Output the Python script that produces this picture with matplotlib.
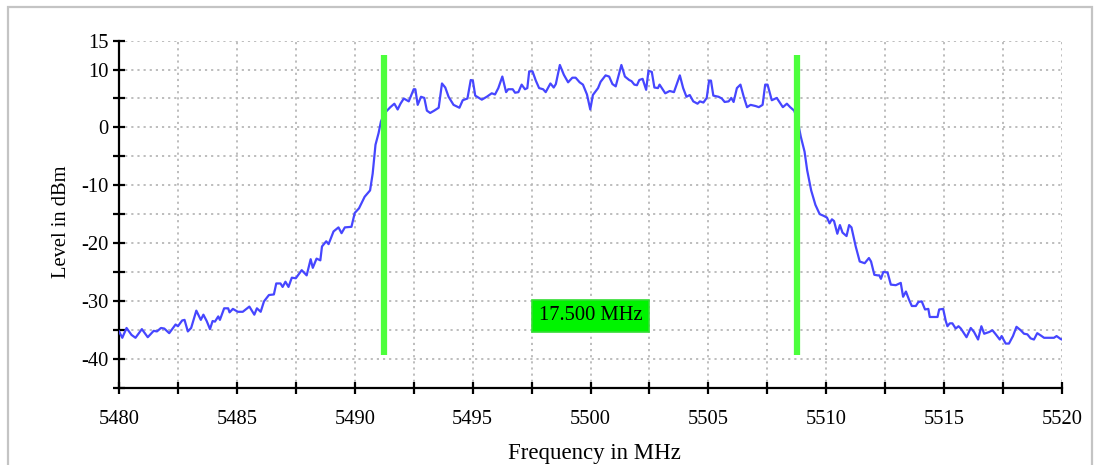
import matplotlib
matplotlib.use('Agg')
import matplotlib.pyplot as plt
from matplotlib.patches import Rectangle

# ---- data ----
freq_mhz = [
    5480.00, 5480.14, 5480.32, 5480.53, 5480.70, 5480.97, 5481.22, 5481.47, 5481.61, 5481.78,
    5481.92, 5482.13, 5482.40, 5482.50, 5482.68, 5482.78, 5482.92, 5483.06, 5483.28, 5483.47,
    5483.58, 5483.72, 5483.86, 5483.97, 5484.07, 5484.21, 5484.28, 5484.46, 5484.63, 5484.69,
    5484.83, 5485.04, 5485.25, 5485.53, 5485.74, 5485.85, 5486.01, 5486.15, 5486.36, 5486.57,
    5486.67, 5486.85, 5486.94, 5487.06, 5487.19, 5487.33, 5487.50, 5487.75, 5487.96, 5488.13,
    5488.22, 5488.38, 5488.54, 5488.61, 5488.79, 5488.89, 5489.10, 5489.31, 5489.44, 5489.58,
    5489.86, 5490.00, 5490.18, 5490.42, 5490.65, 5490.76, 5490.88, 5491.01, 5491.11, 5491.25,
    5491.37, 5491.51, 5491.68, 5491.82, 5491.94, 5492.08, 5492.29, 5492.50, 5492.57, 5492.67,
    5492.81, 5492.95, 5493.06, 5493.20, 5493.37, 5493.56, 5493.70, 5493.84, 5493.98, 5494.19,
    5494.44, 5494.58, 5494.78, 5494.92, 5495.01, 5495.11, 5495.39, 5495.60, 5495.81, 5495.95,
    5496.09, 5496.26, 5496.42, 5496.51, 5496.70, 5496.80, 5496.94, 5497.08, 5497.22, 5497.32,
    5497.40, 5497.54, 5497.68, 5497.82, 5497.99, 5498.10, 5498.30, 5498.44, 5498.53, 5498.70,
    5498.87, 5499.05, 5499.23, 5499.37, 5499.54, 5499.68, 5499.85, 5499.99, 5500.10, 5500.32,
    5500.43, 5500.64, 5500.79, 5500.93, 5501.07, 5501.31, 5501.46, 5501.64, 5501.74, 5501.86,
    5501.97, 5502.07, 5502.21, 5502.36, 5502.46, 5502.60, 5502.71, 5502.86, 5502.93, 5503.17,
    5503.36, 5503.54, 5503.79, 5503.93, 5504.07, 5504.21, 5504.36, 5504.54, 5504.64, 5504.79,
    5504.93, 5505.03, 5505.11, 5505.21, 5505.43, 5505.57, 5505.69, 5505.86, 5505.97, 5506.07,
    5506.21, 5506.36, 5506.50, 5506.64, 5506.79, 5507.00, 5507.14, 5507.30, 5507.41, 5507.51,
    5507.69, 5507.90, 5508.16, 5508.33, 5508.47, 5508.64, 5508.78, 5508.92, 5509.08, 5509.19,
    5509.36, 5509.54, 5509.72, 5509.89, 5510.03, 5510.14, 5510.24, 5510.33, 5510.47, 5510.58,
    5510.69, 5510.86, 5510.97, 5511.07, 5511.25, 5511.42, 5511.63, 5511.81, 5511.90, 5512.04,
    5512.18, 5512.25, 5512.32, 5512.42, 5512.60, 5512.74, 5512.95, 5513.16, 5513.26, 5513.38,
    5513.52, 5513.63, 5513.80, 5513.91, 5514.05, 5514.19, 5514.33, 5514.39, 5514.72, 5514.79,
    5514.96, 5515.07, 5515.14, 5515.24, 5515.35, 5515.49, 5515.61, 5515.71, 5515.95, 5516.13,
    5516.27, 5516.44, 5516.58, 5516.70, 5516.91, 5517.05, 5517.19, 5517.36, 5517.44, 5517.61,
    5517.75, 5517.92, 5518.07, 5518.25, 5518.39, 5518.53, 5518.67, 5518.81, 5518.95, 5519.10,
    5519.24, 5519.66, 5519.77, 5519.94, 5520.00,
]
level_dbm = [
    -35.3, -36.4, -34.7, -35.9, -36.4, -34.9, -36.3, -35.2, -35.3, -34.7,
    -34.8, -35.6, -34.1, -34.4, -33.4, -33.3, -35.3, -34.7, -31.7, -33.3,
    -32.4, -33.5, -34.9, -33.5, -33.6, -32.7, -33.3, -31.3, -31.3, -32.0,
    -31.4, -31.9, -31.9, -31.0, -32.4, -31.3, -31.9, -30.1, -29.0, -28.9,
    -27.0, -27.0, -27.6, -26.7, -27.6, -26.0, -26.1, -24.7, -25.6, -22.8,
    -24.3, -22.7, -23.0, -20.6, -19.7, -20.2, -18.0, -17.3, -18.3, -17.3,
    -17.2, -14.8, -14.0, -12.0, -10.9, -8.0, -3.0, -1.0, 1.0, 2.4,
    2.9, 3.5, 4.1, 3.1, 4.1, 5.0, 4.5, 6.6, 6.6, 3.9,
    5.3, 5.1, 2.9, 2.5, 2.9, 3.4, 7.6, 6.9, 5.3, 3.9,
    3.4, 4.7, 5.0, 8.2, 8.1, 5.5, 4.8, 5.3, 5.9, 5.7,
    6.8, 8.8, 6.1, 6.6, 6.6, 6.0, 6.1, 7.4, 6.6, 6.8,
    9.7, 9.7, 8.1, 6.8, 6.6, 6.1, 7.6, 6.9, 7.5, 10.8,
    9.1, 7.8, 8.6, 8.6, 7.8, 7.4, 5.7, 3.1, 5.6, 6.8,
    7.9, 9.0, 8.8, 7.5, 7.1, 10.8, 8.8, 8.2, 8.0, 7.4,
    7.3, 8.2, 8.4, 6.5, 9.8, 9.6, 6.9, 6.8, 7.4, 5.9,
    6.3, 6.1, 9.0, 6.8, 5.3, 5.6, 4.5, 4.1, 4.5, 4.3,
    5.1, 8.1, 8.1, 5.5, 5.3, 5.0, 4.4, 4.5, 5.1, 4.4,
    6.8, 7.4, 5.3, 3.5, 3.9, 3.7, 3.5, 3.9, 7.4, 7.4,
    4.7, 5.1, 3.5, 4.1, 3.5, 2.9, 1.3, -1.6, -4.2, -7.4,
    -10.9, -13.4, -15.0, -15.3, -15.6, -16.6, -15.9, -16.2, -18.4, -16.9,
    -18.2, -18.8, -16.9, -17.3, -20.6, -23.2, -23.5, -22.6, -23.2, -25.5,
    -25.6, -25.6, -26.2, -25.0, -25.1, -27.2, -27.3, -26.9, -29.3, -28.4,
    -29.9, -30.9, -30.9, -30.2, -30.1, -31.5, -31.4, -32.8, -32.8, -31.5,
    -31.4, -33.5, -34.4, -33.9, -33.9, -34.8, -34.4, -34.8, -36.3, -34.7,
    -35.4, -36.7, -34.4, -35.7, -35.4, -35.1, -35.8, -36.7, -36.1, -37.4,
    -37.4, -36.1, -34.5, -35.1, -35.7, -35.8, -36.5, -36.7, -35.6, -36.0,
    -36.4, -36.4, -36.1, -36.6, -36.7,
]
marker_freqs = [5491.25, 5508.75]
marker_low, marker_high = -39.4, 12.6
bandwidth_text = '17.500 MHz'
bandwidth_pos = (5500.0, -32.6)

x_ticks = [5480 + 2.5 * i for i in range(17)]
x_tick_labels = ['5480', '', '5485', '', '5490', '', '5495', '', '5500', '',
                 '5505', '', '5510', '', '5515', '', '5520']
y_ticks = [-45, -40, -35, -30, -25, -20, -15, -10, -5, 0, 5, 10, 15]
y_tick_labels = ['', '-40', '', '-30', '', '-20', '', '-10', '', '0', '', '10', '15']
x_label = 'Frequency in MHz'
y_label = 'Level in dBm'

# ---- figure ----
W, H = 1099, 465
fig = plt.figure(figsize=(W / 100, H / 100), dpi=100)
serif = ['Liberation Serif', 'DejaVu Serif']
fs = 14.8

ax = fig.add_axes([119 / W, 1 - 387.5 / H, (1062 - 119) / W, (387.5 - 40.7) / H])
ax.set_xlim(5480, 5520)
ax.set_ylim(-45, 15)

ax.set_xticks(x_ticks)
ax.set_xticklabels(x_tick_labels, fontfamily=serif, fontsize=fs)
ax.set_yticks(y_ticks)
ax.set_yticklabels(y_tick_labels, fontfamily=serif, fontsize=fs)
ax.tick_params(axis='both', direction='inout', length=8.5, width=1.6, color='black')
ax.tick_params(axis='x', pad=12)
ax.tick_params(axis='y', pad=3)

ax.grid(True, linestyle=(0, (1.2, 2.2)), color='#b8b8b8', linewidth=1.3)
ax.set_axisbelow(True)
for s in ['top', 'right']:
    ax.spines[s].set_visible(False)
for s in ['left', 'bottom']:
    ax.spines[s].set_linewidth(1.6)
    ax.spines[s].set_color('black')

ax.plot(freq_mhz, level_dbm, color='#4646ff', linewidth=1.6, zorder=3)
ax.vlines(marker_freqs, marker_low, marker_high, colors='#4cff3c', linewidth=4.5, zorder=4)

ax.text(bandwidth_pos[0], bandwidth_pos[1], bandwidth_text, fontfamily=serif, fontsize=fs,
        ha='center', va='center', zorder=5,
        bbox=dict(boxstyle='square,pad=0.32', facecolor='#00f400', edgecolor='#33dd33', linewidth=1.2))

fig.text(594 / W, 1 - 453 / H, x_label, fontfamily=serif, fontsize=16.5, ha='center', va='center')
fig.text(62 / W, 1 - 222 / H, y_label, fontfamily=serif, fontsize=fs, ha='center', va='center',
         rotation=90)

fig.patches.append(Rectangle((7.5 / W, -0.1), (1092 - 7.5) / W, (H - 7.5) / H + 0.1,
                             transform=fig.transFigure, fill=False, edgecolor='#c4c4c4',
                             linewidth=1.6))

fig.savefig('out.png', dpi=100)
